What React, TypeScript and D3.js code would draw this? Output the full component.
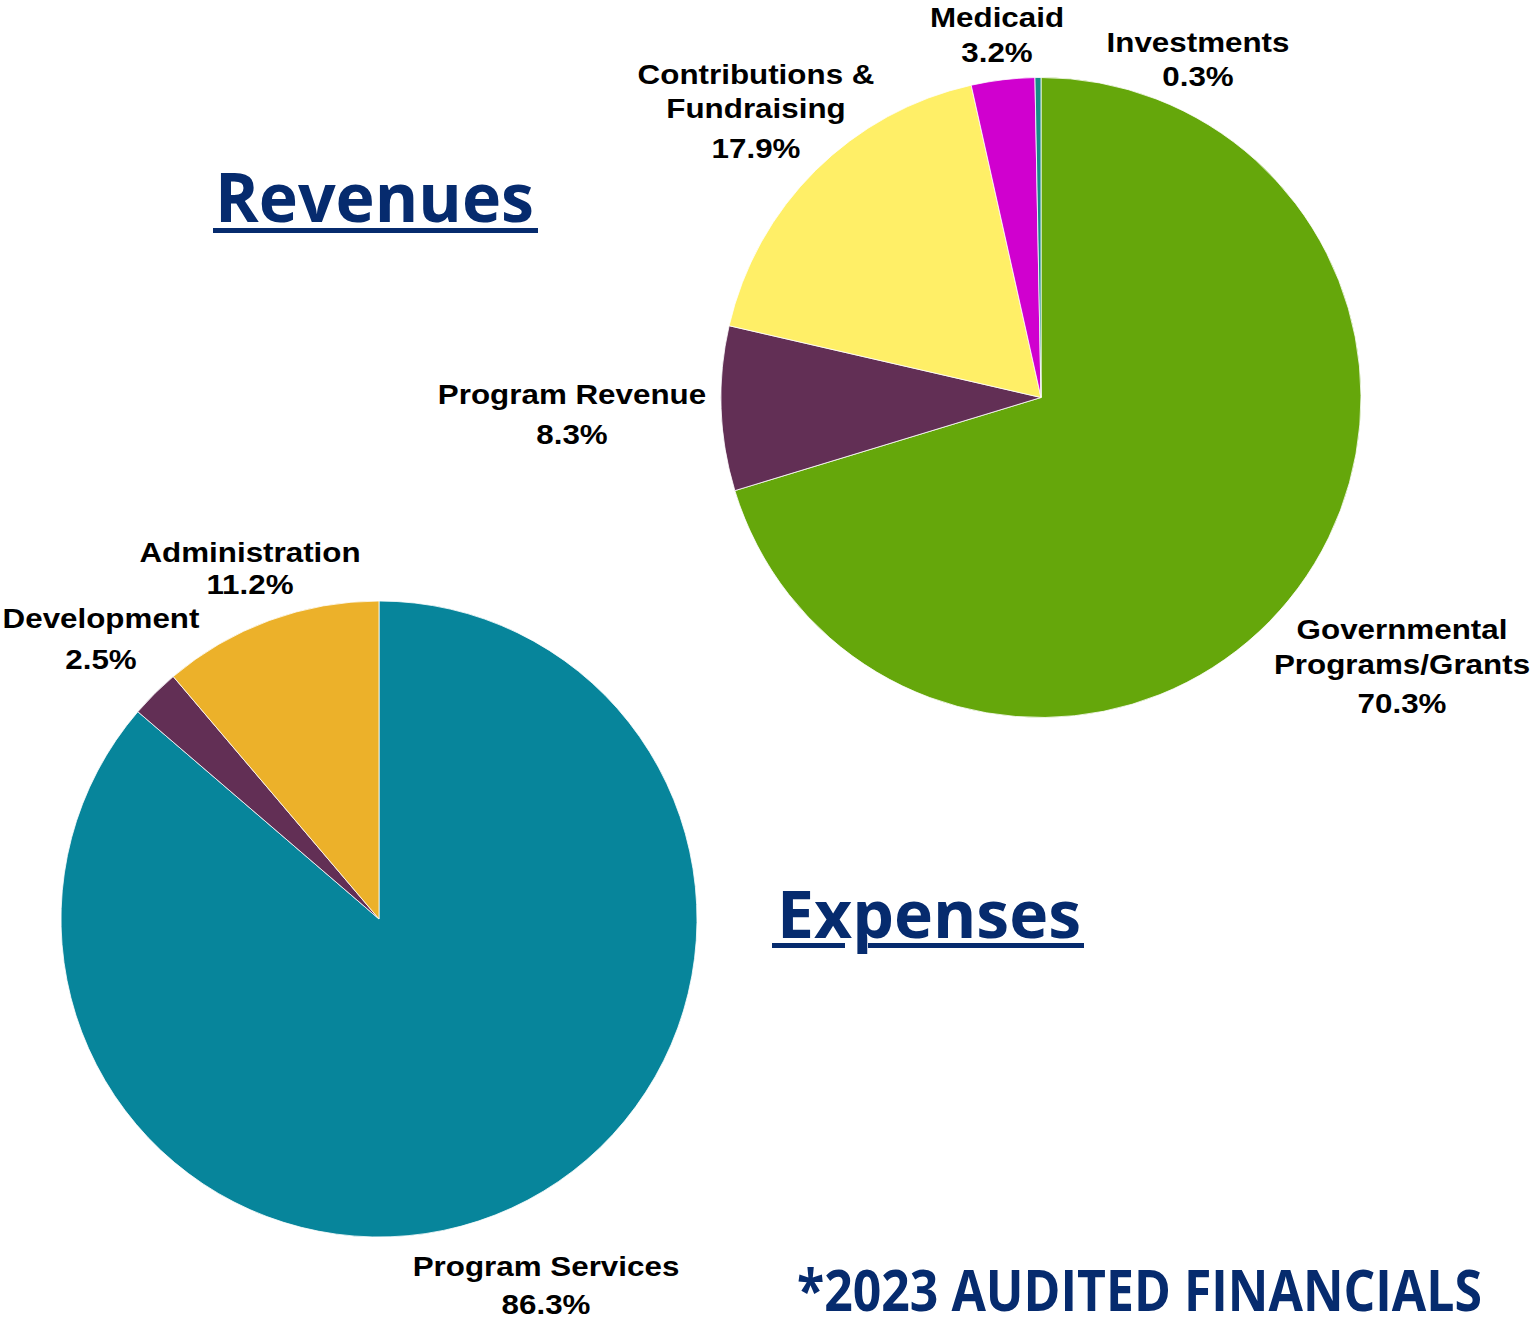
import React from "react";
import * as d3 from "d3";

// ---------- DATA ----------
const revenueCategories = [
  "Governmental Programs/Grants",
  "Program Revenue",
  "Contributions & Fundraising",
  "Medicaid",
  "Investments",
];
const revenueValues = [70.3, 8.3, 17.9, 3.2, 0.3];
const revenueLabelLines = [
  ["Governmental", "Programs/Grants"],
  ["Program Revenue"],
  ["Contributions &", "Fundraising"],
  ["Medicaid"],
  ["Investments"],
];

const expenseCategories = ["Program Services", "Development", "Administration"];
const expenseValues = [86.3, 2.5, 11.2];
const expenseLabelLines = [["Program Services"], ["Development"], ["Administration"]];

const titles = { revenues: "Revenues", expenses: "Expenses", footer: "*2023 AUDITED FINANCIALS" };

// ---------- STYLE / LAYOUT ----------
const revenueColors = ["#65A70B", "#622F55", "#FFEF67", "#D000CF", "#168C88"];
const expenseColors = ["#07859B", "#622F55", "#ECB12A"];
const NAVY = "#062B6E";

const revenuePie = { cx: 1041, cy: 397.5, r: 320 };
const expensePie = { cx: 379, cy: 919, r: 318 };

// label layout: x center, baselines of name lines, baseline of percent
const revenueLabelLayout = [
  { x: 1402, lines: [639, 674], pct: 713 },
  { x: 572, lines: [404], pct: 444 },
  { x: 756, lines: [84, 118], pct: 158 },
  { x: 997, lines: [27], pct: 62 },
  { x: 1198, lines: [52], pct: 86 },
];
const expenseLabelLayout = [
  { x: 546, lines: [1276], pct: 1314 },
  { x: 101, lines: [628], pct: 669 },
  { x: 250, lines: [562], pct: 594 },
];

const LABEL_FONT = "'Liberation Sans', Arial, sans-serif";
const TITLE_FONT = "'Open Sans', 'DejaVu Sans', sans-serif";

type Layout = { x: number; lines: number[]; pct: number };

function Pie({
  values,
  names,
  colors,
  geom,
}: {
  values: number[];
  names: string[];
  colors: string[];
  geom: { cx: number; cy: number; r: number };
}) {
  const pie = d3
    .pie<number>()
    .sort(null)
    .value((d) => d)
    .startAngle(0)
    .endAngle(2 * Math.PI);
  const arc = d3.arc<d3.PieArcDatum<number>>().innerRadius(0).outerRadius(geom.r);
  const arcs = pie(values);
  return (
    <g transform={`translate(${geom.cx},${geom.cy})`}>
      {arcs.map((a, i) => (
        <path
          key={names[i]}
          d={arc(a) || ""}
          fill={colors[i]}
          stroke="#ffffff"
          strokeWidth={0.8}
          strokeLinejoin="round"
        />
      ))}
    </g>
  );
}

function Labels({
  lines,
  values,
  layout,
}: {
  lines: string[][];
  values: number[];
  layout: Layout[];
}) {
  return (
    <g
      fontFamily={LABEL_FONT}
      fontWeight={700}
      fontSize={28}
      fill="#000"
      textAnchor="middle"
    >
      {layout.map((l, i) => (
        <g key={i} transform={`translate(${l.x},0) scale(1.12,1)`}>
          {lines[i].map((t, j) => (
            <text key={j} x={0} y={l.lines[j]}>
              {t}
            </text>
          ))}
          <text x={0} y={l.pct}>
            {values[i].toFixed(1) + "%"}
          </text>
        </g>
      ))}
    </g>
  );
}

export default function App() {
  return (
    <svg
      width={1532}
      height={1318}
      viewBox="0 0 1532 1318"
      style={{ position: "absolute", left: 0, top: 0, display: "block", background: "#fff" }}
    >
      <rect x={0} y={0} width={1532} height={1318} fill="#ffffff" />
      <Pie values={revenueValues} names={revenueCategories} colors={revenueColors} geom={revenuePie} />
      <Pie values={expenseValues} names={expenseCategories} colors={expenseColors} geom={expensePie} />

      <Labels lines={revenueLabelLines} values={revenueValues} layout={revenueLabelLayout} />
      <Labels lines={expenseLabelLines} values={expenseValues} layout={expenseLabelLayout} />

      {/* Titles */}
      <g fontFamily={TITLE_FONT} fontWeight={700} fill={NAVY}>
        <text x={215} y={222} fontSize={68} textLength={319} lengthAdjust="spacingAndGlyphs">
          {titles.revenues}
        </text>
        <rect x={213} y={228} width={325} height={5} />

        <text x={777} y={938} fontSize={67} textLength={304} lengthAdjust="spacingAndGlyphs">
          {titles.expenses}
        </text>
        <rect x={772} y={943} width={73} height={5} />
        <rect x={868} y={943} width={216} height={5} />

        <text x={797} y={1311} fontSize={57} textLength={685} lengthAdjust="spacingAndGlyphs">
          {titles.footer}
        </text>
      </g>
    </svg>
  );
}
